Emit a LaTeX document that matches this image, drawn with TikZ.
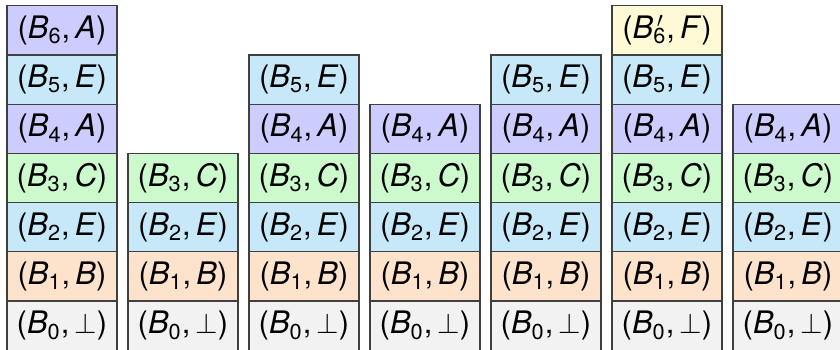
\documentclass[tikz,border=0pt]{standalone}
\usepackage{fontspec}
\setmainfont{TeX Gyre Heros}
\usepackage{xcolor}
\usetikzlibrary{positioning}

\definecolor{tagA}{RGB}{204,204,255}
\definecolor{tagE}{RGB}{198,232,248}
\definecolor{tagC}{RGB}{204,250,204}
\definecolor{tagB}{RGB}{253,227,204}
\definecolor{tagF}{RGB}{255,250,214}
\definecolor{tagN}{RGB}{242,242,242}

\newcommand{\Bi}[1]{\textit{B}\textsubscript{#1}}
\newcommand{\Bp}[1]{\textit{B}\rlap{\textsuperscript{\,$\prime$}}\textsubscript{#1}}
\newcommand{\entry}[2]{(#1,\,#2)}

\begin{document}
\begin{tikzpicture}[x=0.5pt, y=-0.5pt,
      node distance=0pt and 5.5pt,
      cell/.style={draw=black!75, line width=0.6pt, minimum width=55pt,
                   minimum height=24.6pt, inner sep=0pt, outer sep=0pt,
                   font=\fontsize{15.5}{18}\selectfont},
      cellA/.style={cell, fill=tagA},
      cellE/.style={cell, fill=tagE},
      cellC/.style={cell, fill=tagC},
      cellB/.style={cell, fill=tagB},
      cellF/.style={cell, fill=tagF},
      cellN/.style={cell, fill=tagN}]
    \clip (0,0) rectangle (840,349);
    % bottom row
    \node[cellN] (s1b0) at (62,325.6) {\entry{\Bi{0}}{$\bot$}};
    \node[cellN, right=of s1b0] (s2b0) {\entry{\Bi{0}}{$\bot$}};
    \node[cellN, right=of s2b0] (s3b0) {\entry{\Bi{0}}{$\bot$}};
    \node[cellN, right=of s3b0] (s4b0) {\entry{\Bi{0}}{$\bot$}};
    \node[cellN, right=of s4b0] (s5b0) {\entry{\Bi{0}}{$\bot$}};
    \node[cellN, right=of s5b0] (s6b0) {\entry{\Bi{0}}{$\bot$}};
    \node[cellN, right=of s6b0] (s7b0) {\entry{\Bi{0}}{$\bot$}};
    % stack 1
    \node[cellB, above=of s1b0] (s1b1) {\entry{\Bi{1}}{\textit{B}}};
    \node[cellE, above=of s1b1] (s1b2) {\entry{\Bi{2}}{\textit{E}}};
    \node[cellC, above=of s1b2] (s1b3) {\entry{\Bi{3}}{\textit{C}}};
    \node[cellA, above=of s1b3] (s1b4) {\entry{\Bi{4}}{\textit{A}}};
    \node[cellE, above=of s1b4] (s1b5) {\entry{\Bi{5}}{\textit{E}}};
    \node[cellA, above=of s1b5] (s1b6) {\entry{\Bi{6}}{\textit{A}}};
    % stack 2
    \node[cellB, above=of s2b0] (s2b1) {\entry{\Bi{1}}{\textit{B}}};
    \node[cellE, above=of s2b1] (s2b2) {\entry{\Bi{2}}{\textit{E}}};
    \node[cellC, above=of s2b2] (s2b3) {\entry{\Bi{3}}{\textit{C}}};
    % stack 3
    \node[cellB, above=of s3b0] (s3b1) {\entry{\Bi{1}}{\textit{B}}};
    \node[cellE, above=of s3b1] (s3b2) {\entry{\Bi{2}}{\textit{E}}};
    \node[cellC, above=of s3b2] (s3b3) {\entry{\Bi{3}}{\textit{C}}};
    \node[cellA, above=of s3b3] (s3b4) {\entry{\Bi{4}}{\textit{A}}};
    \node[cellE, above=of s3b4] (s3b5) {\entry{\Bi{5}}{\textit{E}}};
    % stack 4
    \node[cellB, above=of s4b0] (s4b1) {\entry{\Bi{1}}{\textit{B}}};
    \node[cellE, above=of s4b1] (s4b2) {\entry{\Bi{2}}{\textit{E}}};
    \node[cellC, above=of s4b2] (s4b3) {\entry{\Bi{3}}{\textit{C}}};
    \node[cellA, above=of s4b3] (s4b4) {\entry{\Bi{4}}{\textit{A}}};
    % stack 5
    \node[cellB, above=of s5b0] (s5b1) {\entry{\Bi{1}}{\textit{B}}};
    \node[cellE, above=of s5b1] (s5b2) {\entry{\Bi{2}}{\textit{E}}};
    \node[cellC, above=of s5b2] (s5b3) {\entry{\Bi{3}}{\textit{C}}};
    \node[cellA, above=of s5b3] (s5b4) {\entry{\Bi{4}}{\textit{A}}};
    \node[cellE, above=of s5b4] (s5b5) {\entry{\Bi{5}}{\textit{E}}};
    % stack 6
    \node[cellB, above=of s6b0] (s6b1) {\entry{\Bi{1}}{\textit{B}}};
    \node[cellE, above=of s6b1] (s6b2) {\entry{\Bi{2}}{\textit{E}}};
    \node[cellC, above=of s6b2] (s6b3) {\entry{\Bi{3}}{\textit{C}}};
    \node[cellA, above=of s6b3] (s6b4) {\entry{\Bi{4}}{\textit{A}}};
    \node[cellE, above=of s6b4] (s6b5) {\entry{\Bi{5}}{\textit{E}}};
    \node[cellF, above=of s6b5] (s6b6) {\entry{\Bp{6}}{\textit{F}}};
    % stack 7
    \node[cellB, above=of s7b0] (s7b1) {\entry{\Bi{1}}{\textit{B}}};
    \node[cellE, above=of s7b1] (s7b2) {\entry{\Bi{2}}{\textit{E}}};
    \node[cellC, above=of s7b2] (s7b3) {\entry{\Bi{3}}{\textit{C}}};
    \node[cellA, above=of s7b3] (s7b4) {\entry{\Bi{4}}{\textit{A}}};
\end{tikzpicture}
\end{document}
